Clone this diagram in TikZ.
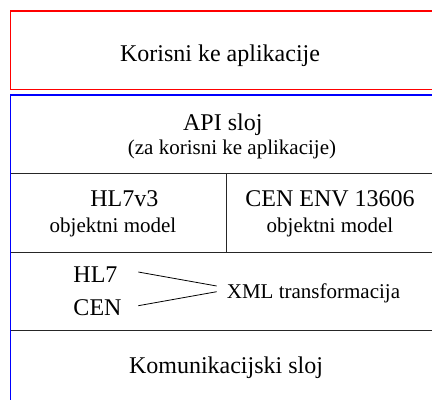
\documentclass[tikz,border=0pt]{standalone}
\usepackage{fontspec}
\setmainfont{Liberation Serif}
\begin{document}
\begin{tikzpicture}[x=1bp,y=-1bp,
  big/.style={font=\fontsize{24bp}{28bp}\selectfont, inner sep=0pt, anchor=base},
  small/.style={font=\fontsize{21bp}{25bp}\selectfont, inner sep=0pt, anchor=base},
  leftbig/.style={big, anchor=base west},
  sep/.style={draw=black!85, line width=1bp},
  conn/.style={draw=black, line width=0.8bp}]
\clip (0,0) rectangle (432,400);
% boxes
\draw[red, line width=1.1bp] (10.5,11) rectangle (440,89.5);
\draw[blue, line width=1.2bp] (10.5,95) rectangle (440,430);
% separators
\draw[sep] (10.5,173.3) -- (440,173.3);
\draw[sep] (10.5,252.3) -- (440,252.3);
\draw[sep] (10.5,330.7) -- (440,330.7);
\draw[sep] (226.7,173.3) -- (226.7,252.3);
% texts
\node[big] (app) at (220,61) {Korisni ke aplikacije};
\node[big] (api) at (222.8,130) {API sloj};
\node[small] (apisub) at (232,154.5) {(za korisni ke aplikacije)};
\node[big] (hl7v3) at (124.3,206.7) {HL7v3};
\node[small] (om1) at (113,232.3) {objektni model};
\node[big] (cenenv) at (330,206.7) {CEN ENV 13606};
\node[small] (om2) at (330,232.3) {objektni model};
\node[leftbig] (hl7) at (73.3,282.3) {HL7};
\node[leftbig] (cen) at (73.3,315.7) {CEN};
\node[small, anchor=base west] (xml) at (226.7,298.3) {XML transformacija};
\node[big] (kom) at (226,373.3) {Komunikacijski sloj};
% converging lines
\coordinate (a1) at (138.3,272);
\coordinate (a2) at (216.7,286);
\coordinate (b1) at (138.3,305.7);
\coordinate (b2) at (216.7,291.7);
\draw[conn] (a1) -- (a2);
\draw[conn] (b1) -- (b2);
\end{tikzpicture}
\end{document}
